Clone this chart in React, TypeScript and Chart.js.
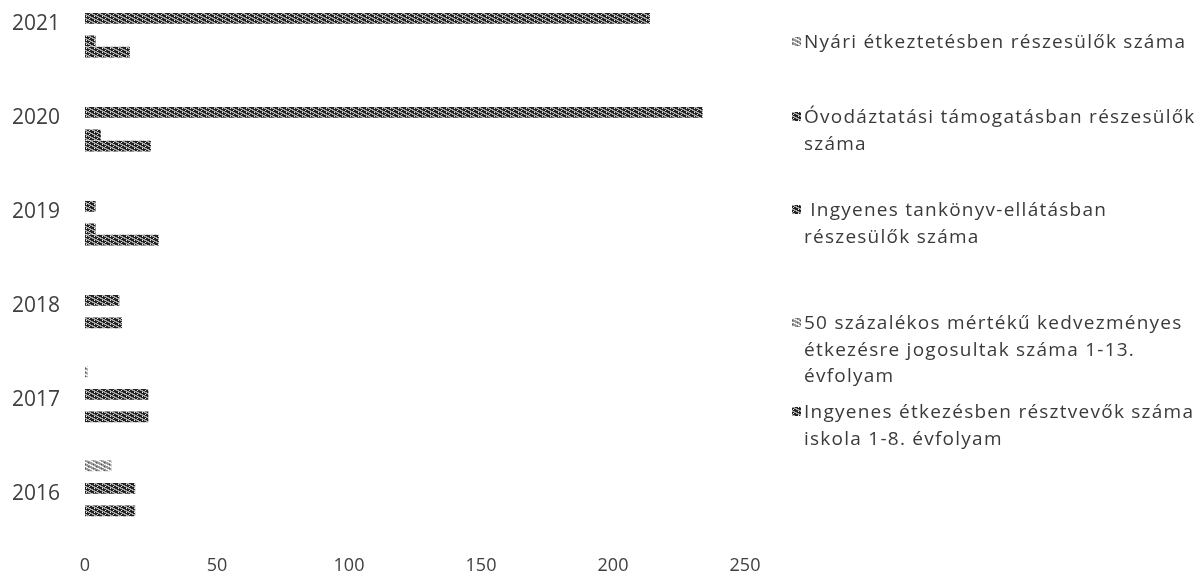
import React, { useEffect, useRef, useMemo } from "react";
import { Chart, registerables } from "chart.js";

Chart.register(...registerables);

// ---- data ----
const years = ["2016", "2017", "2018", "2019", "2020", "2021"];
const nyariEtkeztetes = [10, 1, 0, 0, 0, 0];
const ovodaztatasi = [0, 0, 0, 0, 0, 0];
const tankonyv = [19, 24, 13, 4, 234, 214];
const kedvezmenyes50 = [0, 0, 0, 0, 0, 0];
const ingyenesEtkezes = [19, 24, 14, 4, 6, 4];
const jelmagyarazatNelkul = [0, 0, 0, 28, 25, 17];
const xTickValues = [0, 50, 100, 150, 200, 250];

const legendItems = [
  { lines: ["Nyári étkeztetésben részesülők száma"], kind: "light" },
  { lines: ["Óvodáztatási támogatásban részesülők", "száma"], kind: "dark" },
  { lines: [" Ingyenes tankönyv-ellátásban", "részesülők száma"], kind: "dark" },
  { lines: ["50 százalékos mértékű kedvezményes", "étkezésre jogosultak száma 1-13.", "évfolyam"], kind: "light" },
  { lines: ["Ingyenes étkezésben résztvevők száma", "iskola 1-8. évfolyam"], kind: "dark" },
];
const legendTops = [28, 103, 196, 309, 398];

function makeTile(kind: string): HTMLCanvasElement {
  const c = document.createElement("canvas");
  c.width = 8;
  c.height = 4;
  const g = c.getContext("2d")!;
  if (kind === "dark") {
    g.fillStyle = "#222222";
    g.fillRect(0, 0, 8, 4);
    g.fillStyle = "#a8a8a8";
    g.fillRect(0, 0, 3, 1);
    g.fillRect(2, 1, 3, 1);
    g.fillRect(4, 2, 3, 1);
    g.fillRect(6, 3, 2, 1);
    g.fillRect(0, 3, 1, 1);
    g.fillStyle = "#eeeeee";
    g.fillRect(6, 0, 1, 1);
    g.fillRect(1, 2, 1, 1);
  } else {
    g.fillStyle = "#9a9a9a";
    g.fillRect(0, 0, 8, 4);
    g.fillStyle = "#f2f2f2";
    g.fillRect(0, 0, 3, 1);
    g.fillRect(2, 1, 3, 1);
    g.fillRect(4, 2, 3, 1);
    g.fillRect(6, 3, 2, 1);
    g.fillStyle = "#555";
    g.fillRect(5, 0, 1, 1);
    g.fillRect(0, 2, 1, 1);
  }
  return c;
}

export default function App() {
  const canvasRef = useRef<HTMLCanvasElement | null>(null);
  const tiles = useMemo(() => ({ dark: makeTile("dark"), light: makeTile("light") }), []);
  const tileUrls = useMemo(
    () => ({ dark: tiles.dark.toDataURL(), light: tiles.light.toDataURL() }),
    [tiles]
  );

  useEffect(() => {
    const canvas = canvasRef.current;
    if (!canvas) return;
    const ctx = canvas.getContext("2d")!;
    const dark = ctx.createPattern(tiles.dark, "repeat")!;
    const light = ctx.createPattern(tiles.light, "repeat")!;
    const ds = (label: string, data: number[], fill: CanvasPattern) => ({
      label,
      data,
      backgroundColor: fill,
      borderWidth: 0,
      clip: false as any,
      categoryPercentage: 0.72,
      barPercentage: 0.96,
    });
    const chart = new Chart(canvas, {
      type: "bar",
      data: {
        labels: years,
        datasets: [
          ds("Nyári étkeztetésben részesülők száma", nyariEtkeztetes, light),
          ds("Óvodáztatási támogatásban részesülők száma", ovodaztatasi, dark),
          ds("Ingyenes tankönyv-ellátásban részesülők száma", tankonyv, dark),
          ds("50 százalékos mértékű kedvezményes étkezésre jogosultak száma 1-13. évfolyam", kedvezmenyes50, light),
          ds("Ingyenes étkezésben résztvevők száma iskola 1-8. évfolyam", ingyenesEtkezes, dark),
          ds("", jelmagyarazatNelkul, dark),
        ],
      },
      options: {
        indexAxis: "y",
        animation: false,
        responsive: false,
        maintainAspectRatio: false,
        layout: { padding: { top: 24, right: 457, bottom: 0, left: 0 } },
        plugins: {
          legend: { display: false },
          tooltip: { enabled: false },
        },
        scales: {
          x: {
            min: 0,
            max: 250,
            afterBuildTicks: (s: any) => {
              s.ticks = xTickValues.map((v) => ({ value: v }));
            },
            afterFit: (s: any) => {
              s.height = 86;
              s.paddingLeft = 0;
              s.paddingRight = 0;
            },
            grid: { display: false },
            border: { display: false },
            ticks: {
              padding: 53,
              color: "#404040",
              font: { family: "Open Sans", size: 18 },
            },
          },
          y: {
            reverse: true,
            offset: false,
            grid: { display: false },
            border: { display: false },
            afterFit: (s: any) => {
              s.width = 85;
              s.paddingTop = 0;
              s.paddingBottom = 0;
            },
            ticks: {
              padding: 17,
              color: "#404040",
              font: { family: "Open Sans", size: 21 },
            },
          },
        },
      },
    });
    return () => chart.destroy();
  }, [tiles]);

  return (
    <div style={{ position: "fixed", left: 0, top: 0, width: 1202, height: 580, background: "#fff" }}>
      <canvas ref={canvasRef} width={1202} height={580} style={{ position: "absolute", left: 0, top: 0 }} />
      {legendItems.map((it, i) => (
        <div
          key={i}
          style={{
            position: "absolute",
            left: 804,
            top: legendTops[i],
            fontFamily: "Open Sans",
            fontSize: 19,
            lineHeight: "26.5px",
            letterSpacing: 1.25,
            color: "#3a3a3a",
            whiteSpace: "pre",
          }}
        >
          <span
            style={{
              position: "absolute",
              left: -12,
              top: 9,
              width: 9,
              height: 9,
              backgroundImage: `url(${tileUrls[it.kind as "dark" | "light"]})`,
            }}
          />
          {it.lines.map((l, j) => (
            <div key={j}>{l}</div>
          ))}
        </div>
      ))}
    </div>
  );
}
